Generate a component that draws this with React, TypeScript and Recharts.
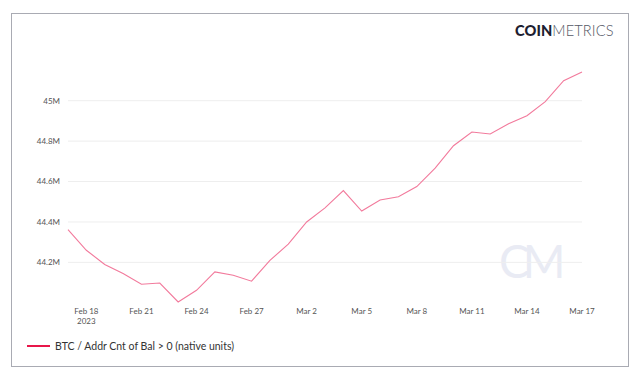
import { LineChart, Line, XAxis, YAxis, ReferenceLine } from "recharts";

const dates = [
  "Feb 17", "Feb 18", "Feb 19", "Feb 20", "Feb 21", "Feb 22", "Feb 23", "Feb 24", "Feb 25", "Feb 26",
  "Feb 27", "Feb 28", "Mar 1", "Mar 2", "Mar 3", "Mar 4", "Mar 5", "Mar 6", "Mar 7", "Mar 8",
  "Mar 9", "Mar 10", "Mar 11", "Mar 12", "Mar 13", "Mar 14", "Mar 15", "Mar 16", "Mar 17",
];

// millions of addresses with balance > 0
const addrCount = [
  44.362, 44.26, 44.19, 44.145, 44.092, 44.098, 44.004, 44.062, 44.153, 44.136,
  44.107, 44.21, 44.29, 44.4, 44.47, 44.555, 44.454, 44.509, 44.525, 44.575,
  44.666, 44.777, 44.845, 44.835, 44.886, 44.926, 44.995, 45.099, 45.142,
];

const xTicks = ["Feb 18", "Feb 21", "Feb 24", "Feb 27", "Mar 2", "Mar 5", "Mar 8", "Mar 11", "Mar 14", "Mar 17"];
const yTicks = [44.2, 44.4, 44.6, 44.8, 45];

const seriesName = "BTC / Addr Cnt of Bal > 0 (native units)";

const data = dates.map((d, i) => ({ date: d, value: addrCount[i] }));

const font = "Lato, 'Open Sans', sans-serif";

function DateTick(props: any) {
  const { x, y, payload } = props;
  return (
    <g transform={`translate(${x},${y})`}>
      <text x={0} y={4} textAnchor="middle" fill="#555" fontSize={8} fontFamily={font}>
        {payload.value}
      </text>
      {payload.value === "Feb 18" && (
        <text x={0} y={14} textAnchor="middle" fill="#555" fontSize={8} fontFamily={font}>
          2023
        </text>
      )}
    </g>
  );
}

const fmtM = (v: number) => (v === 45 ? "45M" : `${v.toFixed(1)}M`);

export default function App() {
  return (
    <div style={{ position: "fixed", left: 0, top: 0, width: 640, height: 379, background: "#fff", fontFamily: font }}>
      <div
        style={{
          position: "absolute",
          left: 11,
          top: 13,
          width: 616,
          height: 352,
          border: "1px solid #a9abb3",
        }}
      />
      <div style={{ position: "absolute", left: 515, top: 22, fontSize: 14.6, letterSpacing: 0.1, lineHeight: "18px" }}>
        <span style={{ fontWeight: 900, color: "#1d2030" }}>COIN</span>
        <span style={{ fontWeight: 300, color: "#555865" }}>METRICS</span>
      </div>
      <div
        style={{
          position: "absolute",
          left: 499,
          top: 236,
          fontSize: 46,
          fontWeight: 400,
          color: "#e9ebf4",
          letterSpacing: -7,
          lineHeight: "50px",
        }}
      >
        CM
      </div>
      <div style={{ position: "absolute", left: 0, top: 0 }}>
        <LineChart width={640} height={379} data={data} margin={{ top: 72, right: 58, bottom: 47, left: 18 }}>
          {yTicks.map((t) => (
            <ReferenceLine key={t} y={t} stroke="#eeeeee" />
          ))}
          <XAxis
            dataKey="date"
            ticks={xTicks}
            interval={0}
            axisLine={false}
            tickLine={false}
            height={30}
            tick={<DateTick />}
          />
          <YAxis
            domain={["dataMin", "dataMax"]}
            ticks={yTicks}
            tickFormatter={fmtM}
            axisLine={false}
            tickLine={false}
            width={50}
            tick={{ fill: "#555", fontSize: 8, fontFamily: font }}
          />
          <Line
            type="linear"
            dataKey="value"
            name={seriesName}
            stroke="#f27a9c"
            strokeWidth={1.1}
            dot={false}
            isAnimationActive={false}
          />
        </LineChart>
      </div>
      <div style={{ position: "absolute", left: 27, top: 340, display: "flex", alignItems: "center" }}>
        <div style={{ width: 23, height: 2, background: "#e8174a", marginRight: 5 }} />
        <span style={{ fontSize: 10.5, color: "#333", whiteSpace: "nowrap" }}>{seriesName}</span>
      </div>
    </div>
  );
}
